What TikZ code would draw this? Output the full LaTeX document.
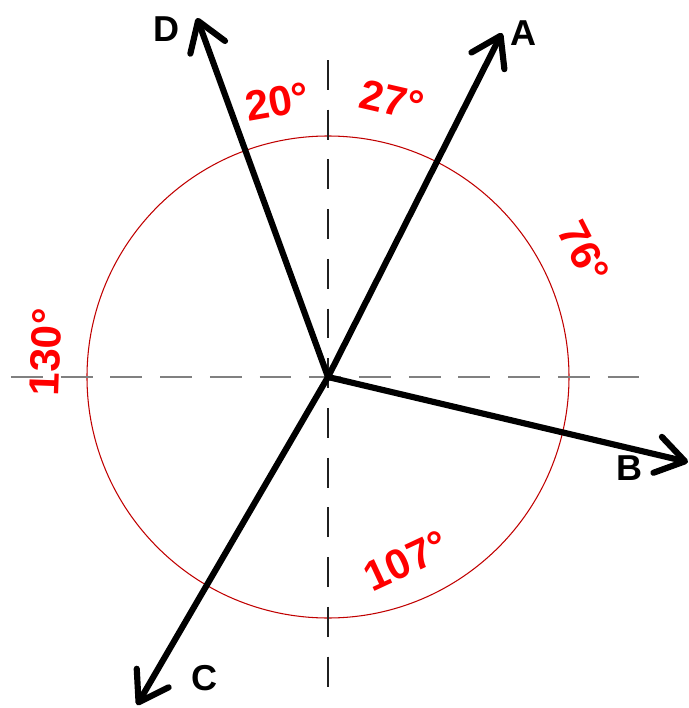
\documentclass[tikz,border=0pt]{standalone}
\usepackage{fontspec}
\setmainfont{Liberation Sans}
\usepackage{xcolor}
\usepackage{tikz}
\usetikzlibrary{arrows.meta}
\definecolor{ringred}{HTML}{C00000}
\definecolor{anglered}{HTML}{FF0000}
\definecolor{axisgrey}{HTML}{808080}
\definecolor{axisdark}{HTML}{202020}

\begin{document}
\begin{tikzpicture}[
  x=0.02cm, y=0.02cm,
  vec/.style={-{Straight Barb[length=16pt, width=21pt, round]}, line width=3.5pt, line cap=round},
  hline/.style={draw=axisgrey, line width=1.1pt, dash pattern=on 18.1pt off 10.2pt},
  vline/.style={draw=axisdark, line width=1.1pt, dash pattern=on 17pt off 11.3pt},
  ang/.style={text=anglered, font=\fontsize{24}{24}\selectfont\bfseries, inner sep=0pt},
  tag/.style={font=\fontsize{20.5}{20.5}\selectfont\bfseries, inner sep=0pt}
]
\useasboundingbox (-328,-331) rectangle (361,377);
\coordinate (O) at (0,0);
% axes and circle
\coordinate (west)  at (-317,0);
\coordinate (east)  at (317,0);
\coordinate (north) at (0,317);
\coordinate (south) at (0,-316);
\draw[ringred, line width=0.6pt] (O) circle (241);
\draw[hline] (west) -- (east);
\draw[vline] (north) -- (south);
% vectors
\coordinate (tipA) at (174,344);
\coordinate (tipB) at (360,-85);
\coordinate (tipC) at (-191,-328);
\coordinate (tipD) at (-131,359);
\draw[vec] (O) -- (tipA);
\draw[vec] (O) -- (tipB);
\draw[vec] (O) -- (tipC);
\draw[vec] (O) -- (tipD);
\node[tag] (labA) at (196,344) {A};
\node[tag] (labB) at (302,-91) {B};
\node[tag] (labC) at (-123,-301) {C};
\node[tag] (labD) at (-161,348) {D};
% angles
\node[ang, rotate=10]  (angDN) at (-51,275)  {20°};
\node[ang, rotate=-13] (angNA) at (64,277)   {27°};
\node[ang, rotate=-63] (angAB) at (256,125)  {76°};
\node[ang, rotate=25]  (angBC) at (78,-184)  {107°};
\node[ang, rotate=88]  (angCD) at (-282,25)  {130°};
\end{tikzpicture}
\end{document}
